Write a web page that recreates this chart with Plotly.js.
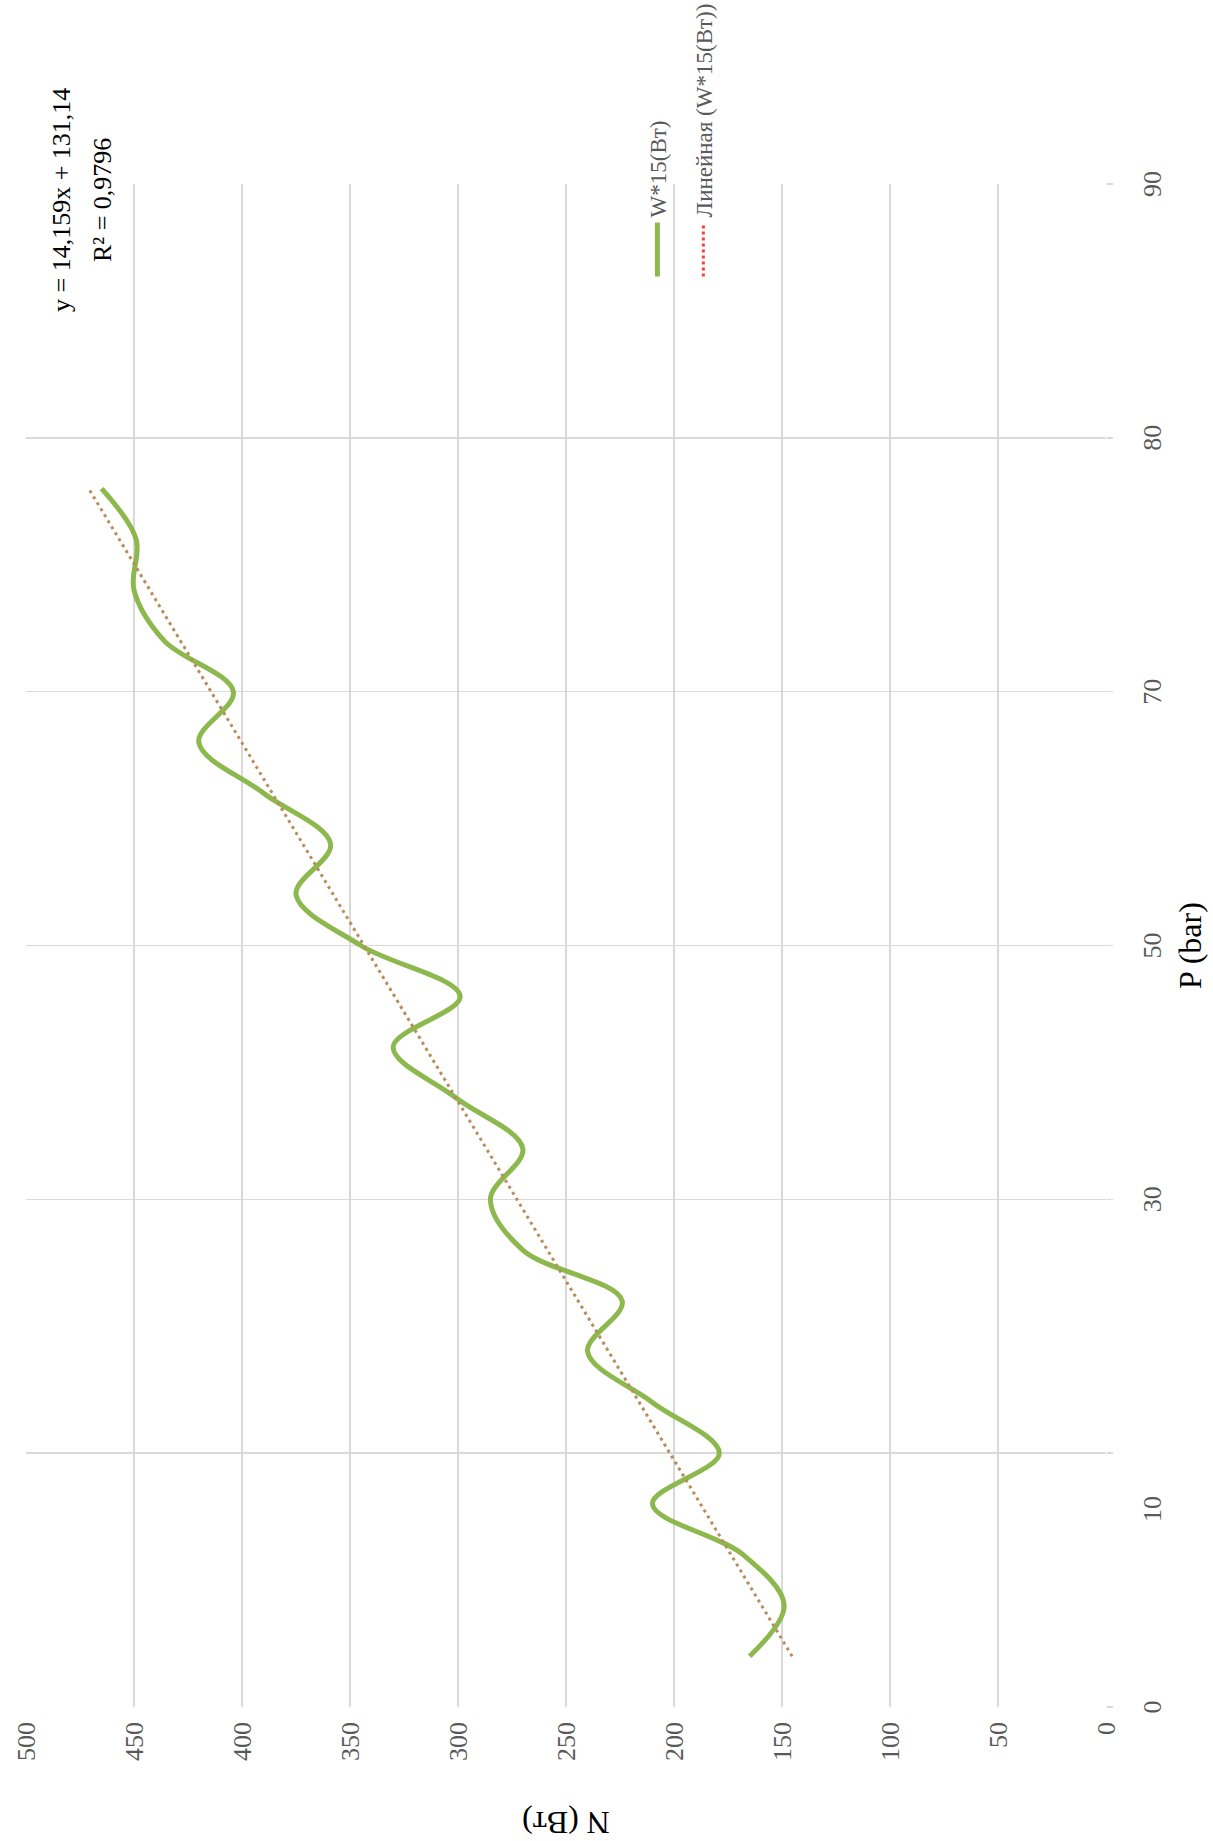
<!DOCTYPE html>
<html>
<head>
<meta charset="utf-8">
<script src="https://cdn.plot.ly/plotly-3.0.1.min.js"></script>
<style>
  html, body { margin: 0; padding: 0; background: #ffffff; }
  #wrap { position: relative; width: 1213px; height: 1841px; overflow: hidden; background: #ffffff; }
  #chart { position: absolute; left: 0; top: 0; width: 1841px; height: 1213px;
           transform-origin: 0 0; transform: translateY(1841px) rotate(-90deg); }
</style>
</head>
<body>
<div id="wrap"><div id="chart"></div></div>
<script>
// ---- data ----
const P = [3, 6, 9, 12, 15, 18, 21, 24, 27, 30, 33, 36, 39, 42, 45, 48, 51, 54, 57, 60, 63, 66, 69, 72];
const N = [165, 149, 168, 210, 179, 210, 240, 224, 270, 285, 270, 301, 330, 299, 345, 375, 359, 390, 420, 404, 436, 450, 449, 465];
const seriesName = 'W*15(Вт)';
const trendName = 'Линейная (W*15(Вт))';
const trendSlope = 14.159;
const trendIntercept = 131.14;
const trendR2 = 0.9796;
const pGridVals = [0, 15, 30, 45, 60, 75, 90];
const pTickVals = [0, 11.7, 30, 45, 60, 75, 90];
const pTickText = ['0', '10', '30', '50', '70', '80', '90'];
const nTickVals = [0, 50, 100, 150, 200, 250, 300, 350, 400, 450, 500];
const xTitle = 'P (bar)';
const yTitle = 'N (Вт)';

// Excel linear trendline uses the point index (1..n) as x
const trendX = [P[0], P[P.length - 1]];
const trendY = [trendIntercept + trendSlope * 1, trendIntercept + trendSlope * P.length];

const fmt = (v, d) => v.toFixed(d).replace('.', ',');
const eqText = 'y = ' + fmt(trendSlope, 3) + 'x + ' + fmt(trendIntercept, 2);
const r2Text = 'R² = ' + fmt(trendR2, 4);

const FONT = 'Liberation Serif, Times New Roman, serif';
const GRID = '#d9d9d9';

const traces = [
  { x: P, y: N, type: 'scatter', mode: 'lines', name: seriesName, legendgroup: 'a',
    line: { color: '#8db84e', width: 5, shape: 'spline', smoothing: 1 } },
  { x: trendX, y: trendY, type: 'scatter', mode: 'lines', showlegend: false, hoverinfo: 'skip',
    line: { color: '#b98c5a', width: 3, dash: '3px,4px' } },
  { x: [null], y: [null], xaxis: 'x2', type: 'scatter', mode: 'lines', name: trendName, legendgroup: 'b',
    line: { color: '#ff3b3b', width: 3, dash: 'dot' } }
];

const layout = {
  width: 1841, height: 1213,
  margin: { l: 134, r: 184, t: 26, b: 107, pad: 0, autoexpand: false },
  paper_bgcolor: '#ffffff', plot_bgcolor: '#ffffff',
  font: { family: FONT, color: '#595959' },
  showlegend: true,
  xaxis: {
    range: [0, 90], tickmode: 'array', tickvals: pGridVals, showticklabels: false,
    showgrid: true, gridcolor: GRID, gridwidth: 1.5, zeroline: false, showline: false,
    ticks: 'outside', ticklen: 6, tickcolor: GRID, tickwidth: 1.5, automargin: false
  },
  xaxis2: {
    overlaying: 'x', anchor: 'y', side: 'bottom', range: [0, 90],
    tickmode: 'array', tickvals: pTickVals, ticktext: pTickText,
    showgrid: false, zeroline: false, showline: false, ticks: '',
    tickfont: { family: FONT, size: 26, color: '#595959' }, ticklabelstandoff: 28,
    title: { text: xTitle, font: { family: FONT, size: 32, color: '#000000' }, standoff: 12 },
    automargin: false
  },
  yaxis: {
    range: [0, 500], tickmode: 'array', tickvals: nTickVals,
    showgrid: true, gridcolor: GRID, gridwidth: 1.5, zeroline: false, showline: false, ticks: '',
    tickfont: { family: FONT, size: 26, color: '#595959' }, ticklabelstandoff: 14,
    title: { text: yTitle, font: { family: FONT, size: 32, color: '#000000' }, standoff: 40 },
    automargin: false
  },
  legend: {
    x: 0.936, xanchor: 'left', y: 0.394, yanchor: 'middle',
    font: { family: FONT, size: 23, color: '#595959' },
    bgcolor: 'rgba(0,0,0,0)', tracegroupgap: 13, traceorder: 'grouped', itemwidth: 54
  },
  annotations: [
    { text: eqText, xref: 'paper', yref: 'paper', x: 0.9895, y: 0.9667, xanchor: 'center', yanchor: 'middle',
      showarrow: false, font: { family: FONT, size: 26, color: '#000000' } },
    { text: r2Text, xref: 'paper', yref: 'paper', x: 0.9895, y: 0.9296, xanchor: 'center', yanchor: 'middle',
      showarrow: false, font: { family: FONT, size: 26, color: '#000000' } }
  ]
};

Plotly.newPlot('chart', traces, layout, { displayModeBar: false, staticPlot: true });
</script>
</body>
</html>
